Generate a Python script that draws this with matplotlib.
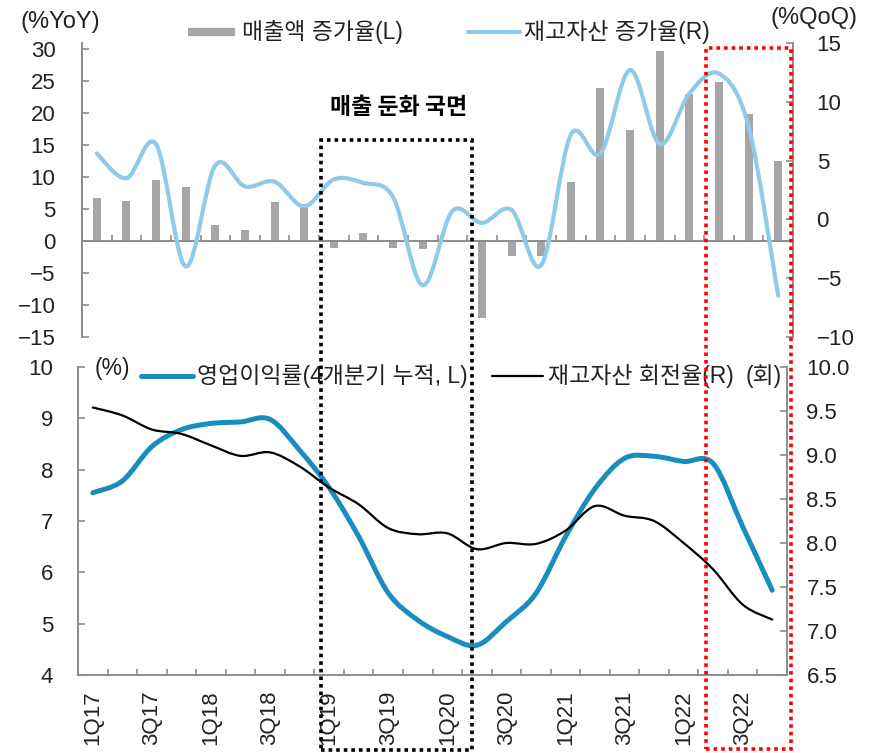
import numpy as np
import matplotlib
matplotlib.use('Agg')
from matplotlib import pyplot as plt
from matplotlib.path import Path
from matplotlib.patches import PathPatch, Rectangle
from matplotlib.lines import Line2D

plt.rcParams['font.family'] = ['Liberation Sans', 'Noto Sans CJK KR']

# data
quarters = ['1Q17', '2Q17', '3Q17', '4Q17', '1Q18', '2Q18', '3Q18', '4Q18',
            '1Q19', '2Q19', '3Q19', '4Q19', '1Q20', '2Q20', '3Q20', '4Q20',
            '1Q21', '2Q21', '3Q21', '4Q21', '1Q22', '2Q22', '3Q22', '4Q22']
sales_growth = [6.8, 6.3, 9.5, 8.4, 2.6, 1.7, 6.1, 5.8,
                -1.0, 1.2, -1.0, -1.2, 0.0, -12.0, -2.4, -2.4,
                9.2, 24.0, 17.4, 29.8, 23.0, 24.9, 19.9, 12.5]
inv_growth = [5.6, 3.5, 6.4, -4.0, 4.6, 2.8, 3.2, 1.1,
              3.4, 3.1, 1.9, -5.6, 0.7, -0.3, 0.8, -3.9,
              7.2, 5.6, 12.7, 6.4, 10.7, 12.4, 7.9, -6.5]
op_margin = [7.55, 7.78, 8.45, 8.78, 8.90, 8.93, 8.98, 8.38,
             7.65, 6.70, 5.60, 5.07, 4.75, 4.58, 5.04, 5.59,
             6.69, 7.63, 8.22, 8.26, 8.16, 8.12, 6.89, 5.65]
inv_turnover = [9.54, 9.45, 9.29, 9.24, 9.11, 8.99, 9.03, 8.87,
                8.63, 8.44, 8.17, 8.10, 8.11, 7.93, 8.00, 7.99,
                8.14, 8.42, 8.31, 8.25, 8.00, 7.70, 7.30, 7.13]

W, H = 876, 753
GRAY = '#8c8c8c'
TXT = '#222222'


def fx(x):
    return x / W


def fy(y):
    return 1 - y / H


def smooth_path(xs, ys):
    # catmull-rom style bezier, like excel's smoothed lines
    pts = np.column_stack([xs, ys]).astype(float)
    n = len(pts)
    verts = [pts[0]]
    codes = [Path.MOVETO]
    for i in range(n - 1):
        p0 = pts[i - 1] if i > 0 else pts[i]
        p1 = pts[i]
        p2 = pts[i + 1]
        p3 = pts[i + 2] if i + 2 < n else pts[i + 1]
        verts += [p1 + (p2 - p0) / 6, p2 - (p3 - p1) / 6, p2]
        codes += [Path.CURVE4] * 3
    return Path(verts, codes)


def style_axes(ax, side):
    for s in ['top', 'right', 'left', 'bottom']:
        ax.spines[s].set_visible(False)
    ax.spines[side].set_visible(True)
    ax.spines[side].set_color(GRAY)
    ax.spines[side].set_linewidth(1.4)


x = np.arange(len(quarters))
fig = plt.figure(figsize=(W / 100, H / 100), dpi=100)

# TOP PANEL
ax1 = fig.add_axes([fx(82), fy(337), fx(711), (337 - 43) / H])
ax1.patch.set_alpha(0)
ax1.bar(x, sales_growth, width=0.27, color='#a6a6a6', zorder=2)
ax1.set_xlim(-0.5, len(quarters) - 0.5)
ax1.set_ylim(-15, 31)
ax1.set_yticks(np.arange(-15, 31, 5))
style_axes(ax1, 'left')
ax1.spines['bottom'].set_visible(True)
ax1.spines['bottom'].set_position(('data', 0))
ax1.spines['bottom'].set_color(GRAY)
ax1.spines['bottom'].set_linewidth(1.4)
ax1.set_xticks([])
ax1.set_xticks(np.arange(-0.5, len(quarters), 1), minor=True)
ax1.tick_params(axis='x', which='minor', direction='in', length=4.5, width=1.2, color=GRAY)
ax1.tick_params(axis='y', direction='in', length=5, width=1.2, color=GRAY,
                labelsize=16, labelcolor=TXT, pad=19)

ax2 = ax1.twinx()
style_axes(ax2, 'right')
ax2.set_ylim(-10, 15)
ax2.set_yticks(np.arange(-10, 16, 5))
ax2.tick_params(axis='y', direction='in', length=5, width=1.2, color=GRAY,
                labelsize=16, labelcolor=TXT, pad=17)
ax2.add_patch(PathPatch(smooth_path(x, inv_growth), fill=False, color='#8ecae9',
                        lw=3.0, capstyle='round', joinstyle='round'))

# BOTTOM PANEL
ax3 = fig.add_axes([fx(78), fy(675), fx(709), (675 - 367) / H])
ax3.patch.set_alpha(0)
style_axes(ax3, 'left')
ax3.spines['bottom'].set_visible(True)
ax3.spines['bottom'].set_color(GRAY)
ax3.spines['bottom'].set_linewidth(1.4)
ax3.set_xlim(-0.5, len(quarters) - 0.5)
ax3.set_ylim(4, 10)
ax3.set_yticks(np.arange(4, 11, 1))
ax3.set_xticks(x[::2])
ax3.set_xticklabels(quarters[::2], rotation=90, va='top', ha='center')
ax3.set_xticks(np.arange(-0.5, len(quarters), 1), minor=True)
ax3.tick_params(axis='x', which='major', length=0, labelsize=16, labelcolor=TXT, pad=11)
ax3.tick_params(axis='x', which='minor', direction='in', length=4.5, width=1.2, color=GRAY)
ax3.tick_params(axis='y', direction='in', length=5, width=1.2, color=GRAY,
                labelsize=16, labelcolor=TXT, pad=18)
ax3.add_patch(PathPatch(smooth_path(x, op_margin), fill=False, color='#1a8dbf',
                        lw=3.6, capstyle='round', joinstyle='round'))

ax4 = ax3.twinx()
style_axes(ax4, 'right')
ax4.set_ylim(6.5, 10.0)
ax4.set_yticks(np.arange(6.5, 10.01, 0.5))
ax4.set_yticklabels(['%.1f' % v for v in np.arange(6.5, 10.01, 0.5)])
ax4.tick_params(axis='y', direction='in', length=5, width=1.2, color=GRAY,
                labelsize=16, labelcolor=TXT, pad=14)
ax4.add_patch(PathPatch(smooth_path(x, inv_turnover), fill=False, color='black',
                        lw=1.6, capstyle='round', joinstyle='round'))

# legends and unit labels
def legend_item(x0, x1, y, color, lw, label, tx):
    fig.add_artist(Line2D([fx(x0), fx(x1)], [fy(y), fy(y)], color=color, lw=lw,
                          solid_capstyle='butt' if lw > 5 else 'round'))
    fig.text(fx(tx), fy(y), label, fontsize=16.5, color=TXT, va='center', ha='left')


legend_item(188, 235, 32, '#a6a6a6', 6, '매출액 증가율(L)', 242)
legend_item(468, 520, 32, '#8ecae9', 3.0, '재고자산 증가율(R)', 524)
fig.text(fx(20), fy(22), '(%YoY)', fontsize=17, color=TXT, va='center', ha='left')
fig.text(fx(857), fy(18), '(%QoQ)', fontsize=17, color=TXT, va='center', ha='right')

fig.text(fx(95), fy(368), '(%)', fontsize=16.5, color=TXT, va='center', ha='left')
legend_item(141, 193, 376, '#1a8dbf', 3.6, '영업이익률(4개분기 누적, L)', 197)
legend_item(492, 543, 376, 'black', 1.6, '재고자산 회전율(R)', 548)
fig.text(fx(782), fy(376), '(회)', fontsize=16.5, color=TXT, va='center', ha='right')

fig.text(fx(399), fy(108), '매출 둔화 국면', fontsize=16.5, fontweight='bold', color='black',
         va='center', ha='center', family=['Noto Sans CJK KR'])

# highlight boxes
fig.add_artist(Rectangle((fx(320.5), fy(750)), fx(472 - 320.5), (750 - 140) / H,
                         fill=False, ec='black', lw=2.6, ls=(0, (1, 1.1)),
                         transform=fig.transFigure, zorder=10))
fig.add_artist(Rectangle((fx(706), fy(749)), fx(791 - 706), (749 - 48) / H,
                         fill=False, ec='#ff0000', lw=2.6, ls=(0, (1, 1.1)),
                         transform=fig.transFigure, zorder=10))

plt.savefig('out.png', dpi=100)
plt.close()
